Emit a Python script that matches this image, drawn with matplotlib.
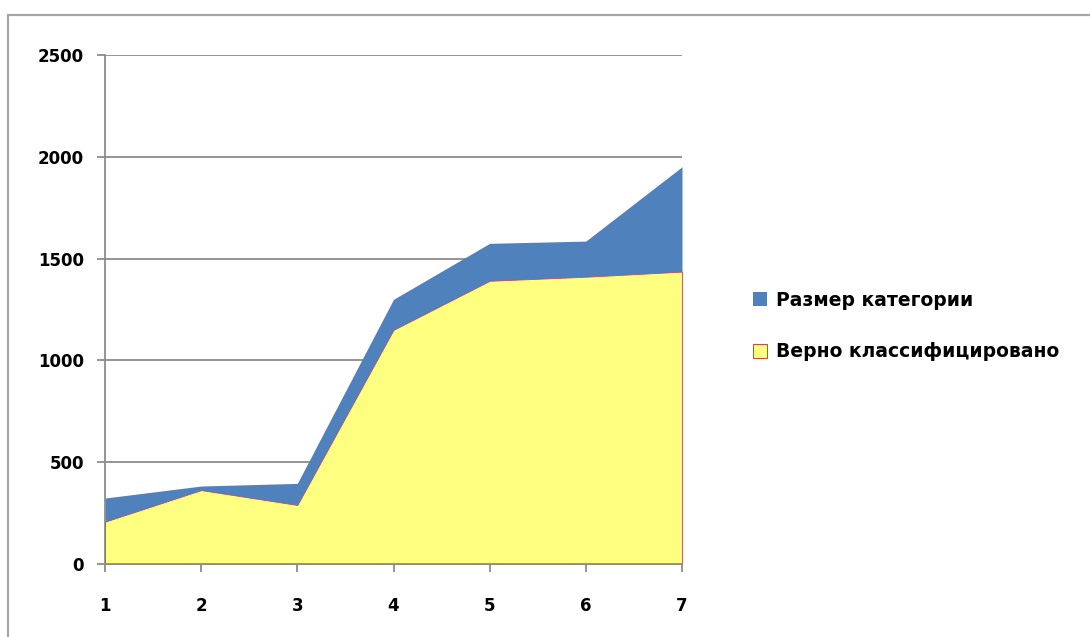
import matplotlib
matplotlib.use("Agg")
import matplotlib.pyplot as plt
from matplotlib.patches import Patch, Rectangle

# Data
steps = [1, 2, 3, 4, 5, 6, 7]
category_size = [324, 383, 396, 1300, 1575, 1586, 1951]
correctly_classified = [208, 363, 290, 1150, 1391, 1411, 1436]
series_labels = ["Размер категории", "Верно классифицировано"]
y_ticks = [0, 500, 1000, 1500, 2000, 2500]

BLUE = "#4F81BD"
YELLOW = "#FFFF80"
RED_EDGE = "#C0504D"
GRID = "#8C8C8C"

plt.rcParams["font.family"] = ["DejaVu Sans"]
plt.rcParams["font.weight"] = "bold"

fig = plt.figure(figsize=(10.9, 6.37), dpi=100)
fig.patch.set_facecolor("white")

# outer chart frame
fig.patches.append(Rectangle((8 / 1090, -0.05), 1.05, 1 - 15 / 637 + 0.05,
                             transform=fig.transFigure, fill=False,
                             edgecolor="#A6A6A6", linewidth=1.6, zorder=0))

ax = fig.add_axes([105 / 1090, (637 - 564) / 637, (682 - 105) / 1090, (564 - 55) / 637])

ax.fill_between(steps, 0, category_size, color=BLUE, linewidth=0, zorder=2)
ax.fill_between(steps, 0, correctly_classified, facecolor=YELLOW,
                edgecolor=RED_EDGE, linewidth=0.6, zorder=3)

ax.set_xlim(1, 7)
ax.set_ylim(0, 2500)
ax.set_xticks(steps)
ax.set_yticks(y_ticks)
ax.yaxis.grid(True, color=GRID, linewidth=1.3, zorder=1)
ax.set_axisbelow(True)

for side in ("top", "right"):
    ax.spines[side].set_visible(False)
for side in ("left", "bottom"):
    ax.spines[side].set_color(GRID)
    ax.spines[side].set_linewidth(1.3)
ax.spines["bottom"].set_zorder(4)

ax.tick_params(axis="both", direction="out", length=6, width=1.3, color=GRID,
               labelsize=12)
ax.tick_params(axis="x", pad=18)
ax.tick_params(axis="y", pad=9)
for lbl in ax.get_xticklabels() + ax.get_yticklabels():
    lbl.set_fontweight("bold")

handles = [Patch(facecolor=BLUE, edgecolor=BLUE, linewidth=0),
           Patch(facecolor=YELLOW, edgecolor=RED_EDGE, linewidth=0.8)]
fig.legend(handles, series_labels, loc="center left",
           bbox_to_anchor=(736 / 1090, 1 - 326 / 637), frameon=False,
           handlelength=0.75, handleheight=0.75, handletextpad=0.5,
           labelspacing=1.75, prop={"size": 13.5, "weight": "bold"})

fig.savefig("out.png", dpi=100, facecolor="white")
